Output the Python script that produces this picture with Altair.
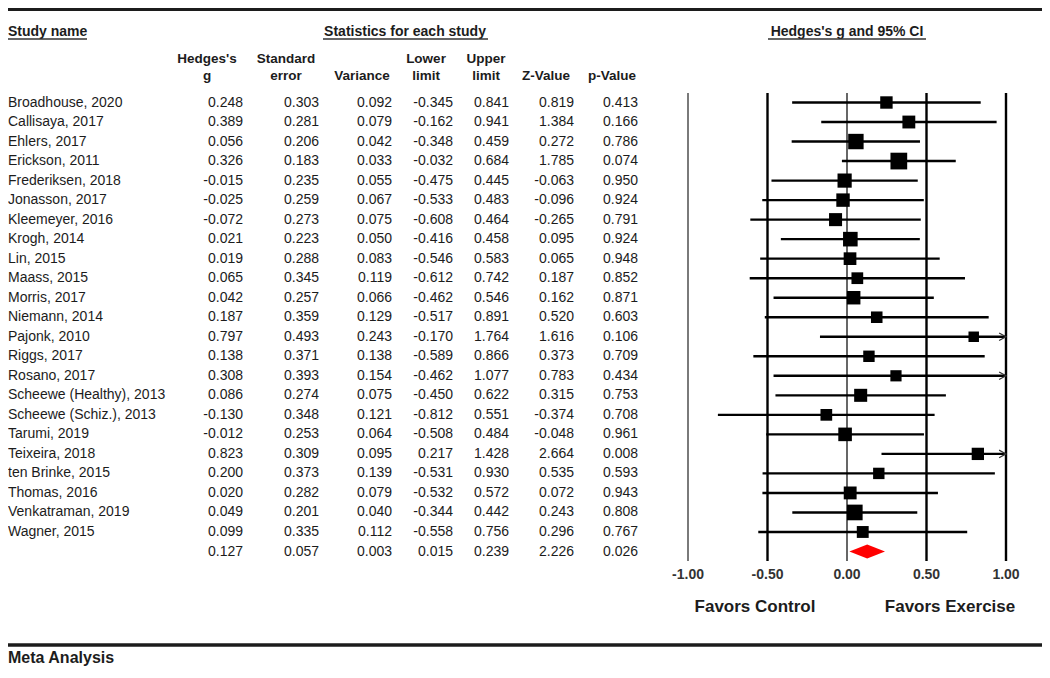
import altair as alt
import pandas as pd

# ---------------- data ----------------
studies = ["Broadhouse, 2020", "Callisaya, 2017", "Ehlers, 2017", "Erickson, 2011",
           "Frederiksen, 2018", "Jonasson, 2017", "Kleemeyer, 2016", "Krogh, 2014",
           "Lin, 2015", "Maass, 2015", "Morris, 2017", "Niemann, 2014", "Pajonk, 2010",
           "Riggs, 2017", "Rosano, 2017", "Scheewe (Healthy), 2013", "Scheewe (Schiz.), 2013",
           "Tarumi, 2019", "Teixeira, 2018", "ten Brinke, 2015", "Thomas, 2016",
           "Venkatraman, 2019", "Wagner, 2015"]
hedges_g = [0.248, 0.389, 0.056, 0.326, -0.015, -0.025, -0.072, 0.021, 0.019, 0.065, 0.042,
            0.187, 0.797, 0.138, 0.308, 0.086, -0.130, -0.012, 0.823, 0.200, 0.020, 0.049, 0.099]
std_err = [0.303, 0.281, 0.206, 0.183, 0.235, 0.259, 0.273, 0.223, 0.288, 0.345, 0.257,
           0.359, 0.493, 0.371, 0.393, 0.274, 0.348, 0.253, 0.309, 0.373, 0.282, 0.201, 0.335]
variance = [0.092, 0.079, 0.042, 0.033, 0.055, 0.067, 0.075, 0.050, 0.083, 0.119, 0.066,
            0.129, 0.243, 0.138, 0.154, 0.075, 0.121, 0.064, 0.095, 0.139, 0.079, 0.040, 0.112]
lower = [-0.345, -0.162, -0.348, -0.032, -0.475, -0.533, -0.608, -0.416, -0.546, -0.612, -0.462,
         -0.517, -0.170, -0.589, -0.462, -0.450, -0.812, -0.508, 0.217, -0.531, -0.532, -0.344, -0.558]
upper = [0.841, 0.941, 0.459, 0.684, 0.445, 0.483, 0.464, 0.458, 0.583, 0.742, 0.546,
         0.891, 1.764, 0.866, 1.077, 0.622, 0.551, 0.484, 1.428, 0.930, 0.572, 0.442, 0.756]
z_value = [0.819, 1.384, 0.272, 1.785, -0.063, -0.096, -0.265, 0.095, 0.065, 0.187, 0.162,
           0.520, 1.616, 0.373, 0.783, 0.315, -0.374, -0.048, 2.664, 0.535, 0.072, 0.243, 0.296]
p_value = [0.413, 0.166, 0.786, 0.074, 0.950, 0.924, 0.791, 0.924, 0.948, 0.852, 0.871,
           0.603, 0.106, 0.709, 0.434, 0.753, 0.708, 0.961, 0.008, 0.593, 0.943, 0.808, 0.767]

summary_g = 0.127
summary_se = 0.057
summary_var = 0.003
summary_lower = 0.015
summary_upper = 0.239
summary_z = 2.226
summary_p = 0.026

tick_values = [-1.0, -0.5, 0.0, 0.5, 1.0]
tick_labels = ["-1.00", "-0.50", "0.00", "0.50", "1.00"]

header_line1 = ["Hedges's", "Standard", "", "Lower", "Upper", "", ""]
header_line2 = ["g", "error", "Variance", "limit", "limit", "Z-Value", "p-Value"]

# ---------------- layout (pixels in view coords) ----------------
W, H = 1034, 660
FONT = "Liberation Sans, Arial, sans-serif"
INK = "#1c1c1c"
col_right = [235, 311, 384, 445, 501, 566, 630]     # right edge of value columns
col_center = [199, 278, 354, 418, 478, 538, 604]    # centre of header text
n = len(studies)

# ---------------- tables ----------------
fmt = lambda v: f"{v:.3f}"
rows = list(range(n)) + [n]
table = pd.DataFrame({
    "row": rows,
    "name": studies + [""],
    "c0": [fmt(v) for v in hedges_g + [summary_g]],
    "c1": [fmt(v) for v in std_err + [summary_se]],
    "c2": [fmt(v) for v in variance + [summary_var]],
    "c3": [fmt(v) for v in lower + [summary_lower]],
    "c4": [fmt(v) for v in upper + [summary_upper]],
    "c5": [fmt(v) for v in z_value + [summary_z]],
    "c6": [fmt(v) for v in p_value + [summary_p]],
})
forest = pd.DataFrame({"row": list(range(n)), "g": hedges_g, "var": variance,
                       "lower": lower, "upper": upper})
ticks = pd.DataFrame({"t": tick_values, "lab": tick_labels})
d = 0.36
diamond = pd.DataFrame({"x": [summary_lower, summary_g, summary_upper],
                        "y1": [n, n - d, n], "y2": [n, n + d, n]})
one = pd.DataFrame({"a": [0]})

xs = alt.Scale(domain=[-1, 1], range=[680, 998], clamp=True, nice=False, zero=False)
ys = alt.Scale(domain=[0, n], range=[94.5, 543.5], nice=False, zero=False)
X = lambda f: alt.X(f, scale=xs, axis=None)
Y = lambda f: alt.Y(f, scale=ys, axis=None)

layers = []


def deco_text(txt, x, y, size=14, bold=True, align="left"):
    return alt.Chart(one).mark_text(text=txt, font=FONT, fontSize=size,
                                    fontWeight="bold" if bold else "normal",
                                    align=align, baseline="middle", color=INK
                                    ).encode(x=alt.value(x), y=alt.value(y))


def deco_rule(x1, x2, y, w=1.0, color=INK):
    return alt.Chart(one).mark_rule(color=color, strokeWidth=w
                                    ).encode(x=alt.value(x1), x2=alt.value(x2), y=alt.value(y))


# top / bottom rules
layers.append(deco_rule(0, W, 1.5, 3))
layers.append(deco_rule(0, W, 637, 3.5))

# section titles with underlines
layers.append(deco_text("Study name", 0, 24))
layers.append(deco_rule(0, 79, 31, 1.3, "#333"))
layers.append(deco_text("Statistics for each study", 397, 24, align="center"))
layers.append(deco_rule(315, 480, 31, 1.3, "#333"))
layers.append(deco_text("Hedges's g and 95% CI", 839, 24, align="center"))
layers.append(deco_rule(760, 918, 31, 1.3, "#333"))

# column headers
for i in range(7):
    if header_line1[i]:
        layers.append(deco_text(header_line1[i], col_center[i], 51, size=13.5, align="center"))
    layers.append(deco_text(header_line2[i], col_center[i], 68, size=13.5, align="center"))

# table body
layers.append(alt.Chart(table).mark_text(font=FONT, fontSize=14, align="left",
                                         baseline="middle", color=INK)
              .encode(x=alt.value(0), y=Y("row:Q"), text="name:N"))
for i in range(7):
    layers.append(alt.Chart(table).mark_text(font=FONT, fontSize=14, align="right",
                                             baseline="middle", color=INK)
                  .encode(x=alt.value(col_right[i]), y=Y("row:Q"), text=f"c{i}:N"))

# vertical reference lines
layers.append(alt.Chart(ticks).transform_filter("datum.t == -1")
              .mark_rule(color="#7a7a7a", strokeWidth=2)
              .encode(x=X("t:Q"), y=alt.value(85), y2=alt.value(553)))
layers.append(alt.Chart(ticks).transform_filter("datum.t != -1 && datum.t != 0")
              .mark_rule(color="#000", strokeWidth=2.4)
              .encode(x=X("t:Q"), y=alt.value(85), y2=alt.value(553)))
layers.append(alt.Chart(ticks).transform_filter("datum.t == 0")
              .mark_rule(color="#000", strokeWidth=1.2)
              .encode(x=X("t:Q"), y=alt.value(85), y2=alt.value(553)))

# confidence intervals
layers.append(alt.Chart(forest).mark_rule(color="#000", strokeWidth=2.4)
              .encode(x=X("lower:Q"), x2="upper:Q", y=Y("row:Q")))
# arrows for truncated intervals
layers.append(alt.Chart(forest).transform_filter("datum.upper > 1")
              .mark_point(shape="M-1,-0.55L0,0L-1,0.55", filled=False, size=190,
                          color="#333", strokeWidth=1.2, opacity=1)
              .encode(x=X("upper:Q"), y=Y("row:Q")))
# study squares sized by inverse-variance weight
layers.append(alt.Chart(forest).transform_calculate(w="1 / datum.var")
              .mark_square(color="#000", opacity=1)
              .encode(x=X("g:Q"), y=Y("row:Q"),
                      size=alt.Size("w:Q", scale=alt.Scale(range=[110, 280], zero=False),
                                    legend=None)))
# summary diamond
layers.append(alt.Chart(diamond).mark_area(orient="vertical", color="#ff0000", opacity=1)
              .encode(x=X("x:Q"), y=Y("y1:Q"), y2="y2:Q"))

# tick labels
layers.append(alt.Chart(ticks).mark_text(font=FONT, fontSize=14, fontWeight="bold",
                                         align="center", baseline="middle", color="#333")
              .encode(x=X("t:Q"), y=alt.value(567), text="lab:N"))
layers.append(deco_text("Favors Control", 747, 599, size=17, align="center"))
layers.append(deco_text("Favors Exercise", 942, 599, size=17, align="center"))

layers.append(deco_text("Meta Analysis", 0, 650, size=16))

chart = alt.layer(*layers).properties(
    width=W, height=H, padding=0,
    autosize=alt.AutoSizeParams(type="none"),
).configure_view(strokeWidth=0, stroke=None).configure_axis(domain=False, grid=False, ticks=False, labels=False)

chart.save("out.html", embed_options={"renderer": "svg", "actions": False})
